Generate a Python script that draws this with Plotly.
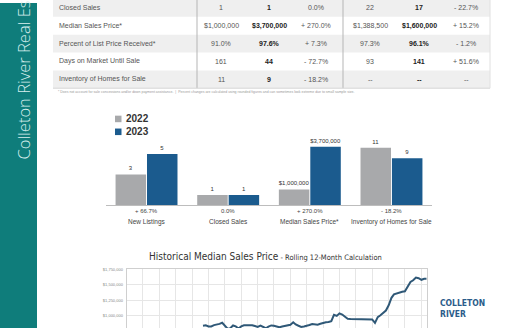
import plotly.graph_objects as go
import pandas as pd

W, H = 525, 328

# ---------------- data ----------------
metrics = ["Closed Sales", "Median Sales Price*", "Percent of List Price Received*",
           "Days on Market Until Sale", "Inventory of Homes for Sale"]
month_2022 = ["1", "$1,000,000", "91.0%", "161", "11"]
month_2023 = ["1", "$3,700,000", "97.6%", "44", "9"]
month_chg = ["0.0%", "+ 270.0%", "+ 7.3%", "- 72.7%", "- 18.2%"]
ytd_2022 = ["22", "$1,388,500", "97.3%", "93", "--"]
ytd_2023 = ["17", "$1,600,000", "96.1%", "141", "--"]
ytd_chg = ["- 22.7%", "+ 15.2%", "- 1.2%", "+ 51.6%", "--"]

bar_cats = ["New Listings", "Closed Sales", "Median Sales Price*", "Inventory of Homes for Sale"]
bar_2022 = [3, 1, 1000000, 11]
bar_2023 = [5, 1, 3700000, 9]
bar_chg = ["+ 66.7%", "0.0%", "+ 270.0%", "- 18.2%"]
bar_scale = [6, 6, 3900000, 11.8]   # value reaching the top of each group's panel

hist_start = "2016-05-01"
hist_values = [840000, 847000, 830000, 830000, 850000, 857000, 870000, 888000, 830000, 790000,
               800000, 845000, 830000, 795000, 830000, 847000, 847000, 848000, 847000, 835000,
               822000, 842000, 825000, 800000, 825000, 845000, 840000, 830000, 815000, 828000,
               842000, 848000, 857000, 895000, 860000, 840000, 822000, 828000, 836000, 852000,
               868000, 862000, 857000, 872000, 888000, 896000, 900000, 915000, 1016000, 998000,
               1040000, 1020000, 985000, 952000, 950000, 948000, 948000, 948000, 948000, 948000,
               946000, 945000, 942000, 885000, 980000, 1010000, 1045000, 1085000, 1170000, 1290000,
               1345000, 1362000, 1378000, 1388000, 1396000, 1470000, 1545000, 1572000, 1617000, 1606000,
               1580000, 1596000, 1596000]

# ---------------- helpers ----------------
def X(px):
    return px / W

def Y(py):
    return 1 - py / H

hist_dates = pd.date_range(hist_start, periods=len(hist_values), freq="MS")

TEAL = "#0f7d7b"
GREY_BAR = "#a8a9ab"
BLUE_BAR = "#1b5b8e"
LINE = "#2f5877"
TXT = "#555555"
LABEL_FONT = dict(size=6, color="#333333", family="Liberation Sans")

fig = go.Figure()

# ---------------- bar chart ----------------
for vals, colr in ((bar_2022, GREY_BAR), (bar_2023, BLUE_BAR)):
    fig.add_trace(go.Bar(
        x=bar_cats, y=[v / s for v, s in zip(vals, bar_scale)],
        marker=dict(color=colr, line=dict(width=0)),
        text=[f"${v:,.0f}" if v >= 1000 else f"{v}" for v in vals],
        textposition="outside", textfont=LABEL_FONT, outsidetextfont=LABEL_FONT,
        constraintext="none",
        cliponaxis=False, xaxis="x", yaxis="y", showlegend=False, hoverinfo="skip"))

# ---------------- history line ----------------
fig.add_trace(go.Scatter(
    x=hist_dates, y=hist_values, mode="lines",
    line=dict(color=LINE, width=2), xaxis="x2", yaxis="y2",
    showlegend=False, hoverinfo="skip"))

top_px, bot_px = 268.7, H
px_per_250k = 15.67
y_bottom = 1750000 - (bot_px - top_px) / px_per_250k * 250000

shapes = []
annotations = []

# sidebar
shapes.append(dict(type="rect", xref="paper", yref="paper", x0=0, x1=X(37), y0=0, y1=1,
                   fillcolor=TEAL, line=dict(width=0), layer="below"))
annotations.append(dict(text="Colleton River Real Estate", xref="paper", yref="paper",
                        x=X(24), y=Y(160), xanchor="center", yanchor="bottom", textangle=-90,
                        showarrow=False,
                        font=dict(size=16.5, color="#d8efee", family="Open Sans", weight=300)))

# table
row_y = [5, 23, 41, 59, 77]
col_x = [221, 269, 316, 370, 419, 466]
t_left, t_right = 53, 490
for i, cy in enumerate(row_y):
    if i % 2 == 0:
        shapes.append(dict(type="rect", xref="paper", yref="paper", x0=X(t_left), x1=X(t_right),
                           y0=Y(cy + 9), y1=Y(cy - 9), fillcolor="#efefef",
                           line=dict(width=0), layer="below"))
for xs in (197, 343):
    shapes.append(dict(type="line", xref="paper", yref="paper", x0=X(xs), x1=X(xs),
                       y0=Y(86), y1=Y(-5), line=dict(color="#b5b5b5", width=1)))
shapes.append(dict(type="line", xref="paper", yref="paper", x0=X(t_left), x1=X(t_right),
                   y0=Y(86), y1=Y(86), line=dict(color="#d6d6d6", width=1)))
shapes.append(dict(type="line", xref="paper", yref="paper", x0=X(t_right), x1=X(t_right),
                   y0=Y(86), y1=Y(-5), line=dict(color="#e0e0e0", width=1)))

cols = [month_2022, month_2023, month_chg, ytd_2022, ytd_2023, ytd_chg]
for i, cy in enumerate(row_y):
    annotations.append(dict(text=metrics[i], xref="paper", yref="paper", x=X(57), y=Y(cy),
                            xanchor="left", yanchor="middle", showarrow=False,
                            font=dict(size=7, color=TXT, family="Liberation Sans")))
    for j, col in enumerate(cols):
        bold = j in (1, 4)
        annotations.append(dict(text=(f"<b>{col[i]}</b>" if bold else col[i]),
                                xref="paper", yref="paper", x=X(col_x[j]), y=Y(cy),
                                xanchor="center", yanchor="middle", showarrow=False,
                                font=dict(size=7, color="#222" if bold else TXT,
                                          family="Liberation Sans")))
annotations.append(dict(
    text="* Does not account for sale concessions and/or down payment assistance.  |  "
         "Percent changes are calculated using rounded figures and can sometimes look extreme due to small sample size.",
    xref="paper", yref="paper", x=X(56), y=Y(90), xanchor="left", yanchor="middle",
    showarrow=False, font=dict(size=3.5, color="#999", family="Liberation Sans")))

# bar legend
for lab, colr, cy in (("2022", GREY_BAR, 117), ("2023", BLUE_BAR, 130)):
    shapes.append(dict(type="rect", xref="paper", yref="paper", x0=X(115), x1=X(121.5),
                       y0=Y(cy + 3.3), y1=Y(cy - 3.3), fillcolor=colr, line=dict(width=0)))
    annotations.append(dict(text=f"<b>{lab}</b>", xref="paper", yref="paper", x=X(124), y=Y(cy),
                            xanchor="left", yanchor="middle", showarrow=False,
                            font=dict(size=10, color="#333", family="Liberation Sans")))

# bar category labels
for c, chg in zip(bar_cats, bar_chg):
    annotations.append(dict(text=chg, xref="x", yref="paper", x=c, y=Y(210), xanchor="center",
                            yanchor="middle", showarrow=False,
                            font=dict(size=6, color="#444", family="Liberation Sans")))
    annotations.append(dict(text=c, xref="x", yref="paper", x=c, y=Y(221), xanchor="center",
                            yanchor="middle", showarrow=False,
                            font=dict(size=6.5, color="#444", family="Liberation Sans")))

# line chart title and label
COND = "Liberation Sans Narrow, DejaVu Sans Condensed, sans-serif"
annotations.append(dict(
    text="<span style='font-size:10px'>Historical Median Sales Price</span>"
         "<span style='font-size:7.5px'> - Rolling 12-Month Calculation</span>",
    xref="paper", yref="paper", x=X(265), y=Y(256), xanchor="center", yanchor="middle",
    showarrow=False, font=dict(color="#333", family=COND)))
annotations.append(dict(text="<b>COLLETON<br>RIVER</b>", xref="paper", yref="paper",
                        x=X(438), y=Y(308), xanchor="left", yanchor="middle", align="left",
                        showarrow=False, font=dict(size=8.5, color="#2b5c8a", family=COND)))

fig.update_layout(
    width=W, height=H, margin=dict(l=0, r=0, t=0, b=0), autosize=False,
    paper_bgcolor="white", plot_bgcolor="rgba(0,0,0,0)",
    barmode="group", bargap=0.23, bargroupgap=0.03,
    shapes=shapes, annotations=annotations,
    xaxis=dict(domain=[X(105.7), X(432.3)], range=[-0.5, 3.5], showticklabels=False,
               showline=True, linecolor="#bdbdbd", linewidth=1, ticks="", showgrid=False,
               zeroline=False, fixedrange=True),
    yaxis=dict(domain=[Y(204), Y(142)], range=[0, 1], visible=False, showgrid=False,
               zeroline=False),
    xaxis2=dict(domain=[X(126.7), X(426.7)], anchor="y2", type="date",
                range=["2014-01-01", "2023-03-01"], tick0="2014-01-01", dtick="M6",
                showticklabels=False, showgrid=True, gridcolor="#e6e6e6", gridwidth=1,
                showline=True, mirror=True, linecolor="#cfcfcf", zeroline=False, ticks=""),
    yaxis2=dict(domain=[0, Y(top_px)], anchor="x2", range=[y_bottom, 1750000],
                tick0=0, dtick=250000, tickformat="$,.0f", showgrid=True, gridcolor="#e6e6e6",
                tickfont=dict(size=4, color="#888", family="Liberation Sans"),
                showline=True, mirror=True, linecolor="#cfcfcf", zeroline=False, ticks="",
                ticklabelstandoff=2),
)

fig.write_html("out.html")
